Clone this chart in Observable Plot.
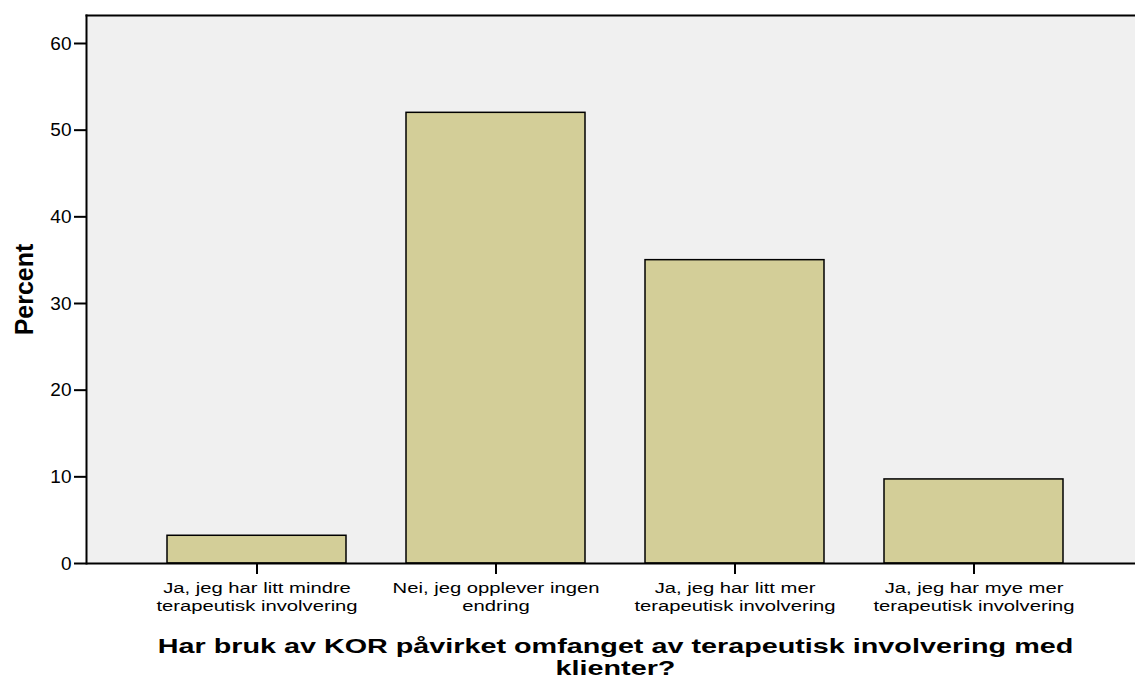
<!DOCTYPE html>
<html>
<head>
<meta charset="utf-8">
<script src="https://cdn.jsdelivr.net/npm/d3@7"></script>
<script src="https://cdn.jsdelivr.net/npm/@observablehq/plot@0.6"></script>
<style>
  html, body { margin: 0; padding: 0; background: #fff; overflow: hidden; }
  #chart svg { display: block; overflow: hidden; }
</style>
</head>
<body>
<div id="chart"></div>
<script>
const categories = [
  "Ja, jeg har litt mindre\nterapeutisk involvering",
  "Nei, jeg opplever ingen\nendring",
  "Ja, jeg har litt mer\nterapeutisk involvering",
  "Ja, jeg har mye mer\nterapeutisk involvering"
];
const percents = [3.2, 52.0, 35.0, 9.7];
const yTicks = [0, 10, 20, 30, 40, 50, 60];
const xTitle = "Har bruk av KOR påvirket omfanget av terapeutisk involvering med\nklienter?";
const yTitle = "Percent";

const data = categories.map((c, i) => ({category: c, percent: percents[i]}));
const font = "Arial, 'Liberation Sans', sans-serif";

const chart = Plot.plot({
  width: 1135,
  height: 680,
  marginTop: 15,
  marginBottom: 117,
  marginLeft: 86,
  marginRight: -9,
  style: {fontFamily: font, fontSize: "16px", color: "#000", background: "#fff"},
  x: {domain: categories, paddingInner: 0.25, paddingOuter: 0.338},
  y: {domain: [0, 63.23]},
  marks: [
    Plot.frame({fill: "#f0f0f0", stroke: null}),
    Plot.barY(data, {x: "category", y: "percent", fill: "#d3ce98", stroke: "#000", strokeWidth: 1.5}),
    Plot.ruleY([0], {stroke: "#000", strokeWidth: 2}),
    Plot.frame({anchor: "top", stroke: "#000", strokeWidth: 2}),
    Plot.frame({anchor: "left", stroke: "#000", strokeWidth: 2}),
    Plot.axisY({ticks: yTicks, tickSize: 12, tickPadding: 3, strokeWidth: 2, label: null, fontSize: 19}),
    Plot.axisX({tickSize: 11, tickPadding: 6, strokeWidth: 2, label: null, fontSize: 15, lineHeight: 1.2}),
    Plot.text([xTitle], {frameAnchor: "bottom", dy: 74, lineAnchor: "top", lineHeight: 1.05, fontSize: 21, fontWeight: "bold", fill: "#000"}),
    Plot.text([yTitle], {frameAnchor: "left", dx: -62, rotate: -90, textAnchor: "middle", fontSize: 25, fontWeight: "bold", fill: "#000"})
  ]
});

// The reference renders its text horizontally widened; stretch glyphs to match.
d3.select(chart).selectAll("text").each(function () {
  const lab = this.parentNode.getAttribute("aria-label") || "";
  let sx = 1;
  if (lab.startsWith("x-axis tick label")) sx = 1.35;
  else if (this.textContent.startsWith("Har bruk")) sx = 1.37;
  if (sx === 1) return;
  const x = +(this.getAttribute("x") || 0), y = +(this.getAttribute("y") || 0);
  const t = this.getAttribute("transform") || "";
  this.removeAttribute("x");
  this.removeAttribute("y");
  this.setAttribute("transform", `${t} translate(${x},${y}) scale(${sx},1)`);
});

document.getElementById("chart").appendChild(chart);
</script>
</body>
</html>
